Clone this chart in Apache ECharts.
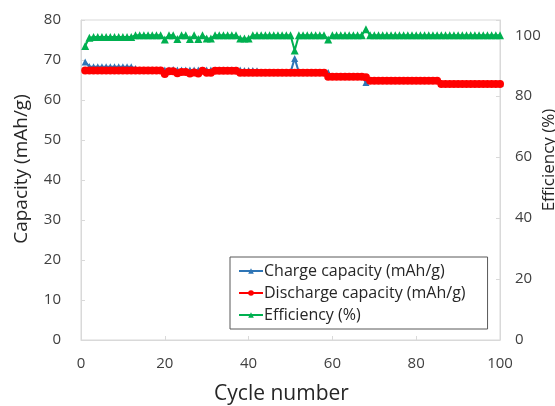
<!DOCTYPE html>
<html>
<head>
<meta charset="utf-8">
<script src="https://cdn.jsdelivr.net/npm/echarts@6/dist/echarts.min.js"></script>
<style>
  html, body { margin: 0; padding: 0; background: #fff; }
  #container { width: 555px; height: 406px; }
</style>
</head>
<body>
<div id="container"></div>
<script>
// cycles 1..100
var cycles = [];
for (var i = 1; i <= 100; i++) cycles.push(i);

// charge capacity (mAh/g)
var charge = [
    69.5, 68.4, 68.3, 68.3, 68.3, 68.3, 68.3, 68.3, 68.3, 68.3,
    68.3, 68.3, 67.9, 67.5, 67.5, 67.5, 67.5, 67.5, 67.5, 67.5,
    67.5, 67.6, 67.5, 67.5, 67.5, 67.5, 67.5, 67.5, 67.5, 67.5,
    67.5, 67.5, 67.5, 67.5, 67.5, 67.5, 67.5, 67.5, 67.4, 67.4,
    67.4, 67.3, 66.9, 66.9, 66.9, 66.9, 66.9, 66.9, 66.9, 66.9,
    70.4, 66.9, 66.9, 66.9, 66.9, 66.9, 66.9, 66.9, 66.9, 65.9,
    65.9, 65.9, 65.9, 65.9, 65.9, 65.9, 65.9, 64.4, 64.9, 64.9,
    64.9, 64.9, 64.9, 64.9, 64.9, 64.9, 64.9, 64.9, 64.9, 64.9,
    64.9, 64.9, 64.9, 64.9, 64.9, 64.1, 64.1, 64.1, 64.1, 64.1,
    64.1, 64.1, 64.1, 64.1, 64.1, 64.1, 64.1, 64.1, 64.1, 64.1
];

// discharge capacity (mAh/g)
var discharge = [
    67.4, 67.4, 67.4, 67.4, 67.4, 67.4, 67.4, 67.4, 67.4, 67.4,
    67.4, 67.4, 67.4, 67.4, 67.4, 67.4, 67.4, 67.4, 67.4, 66.5,
    67.2, 67.2, 66.7, 67.0, 67.0, 66.6, 66.9, 66.6, 67.3, 66.8,
    66.8, 67.3, 67.3, 67.3, 67.3, 67.3, 67.3, 66.8, 66.8, 66.8,
    66.8, 66.8, 66.8, 66.8, 66.8, 66.8, 66.8, 66.8, 66.8, 66.8,
    66.8, 66.8, 66.8, 66.8, 66.8, 66.8, 66.8, 66.8, 65.8, 65.8,
    65.8, 65.8, 65.8, 65.8, 65.8, 65.8, 65.8, 65.7, 64.8, 64.8,
    64.8, 64.8, 64.8, 64.8, 64.8, 64.8, 64.8, 64.8, 64.8, 64.8,
    64.8, 64.8, 64.8, 64.8, 64.8, 64.0, 64.0, 64.0, 64.0, 64.0,
    64.0, 64.0, 64.0, 64.0, 64.0, 64.0, 64.0, 64.0, 64.0, 64.0
];

// coulombic efficiency (%)
var efficiency = [
    96.5, 99.2, 99.4, 99.4, 99.4, 99.4, 99.4, 99.4, 99.4, 99.4,
    99.4, 99.4, 100, 100, 100, 100, 100, 100, 100, 98.6,
    100, 100, 98.8, 100, 100, 98.8, 100, 98.8, 100, 98.9,
    98.9, 100, 100, 100, 100, 100, 100, 98.9, 98.9, 98.9,
    100, 100, 100, 100, 100, 100, 100, 100, 100, 100,
    95.0, 100, 100, 100, 100, 100, 100, 100, 98.6, 100,
    100, 100, 100, 100, 100, 100, 100, 102, 100, 100,
    100, 100, 100, 100, 100, 100, 100, 100, 100, 100,
    100, 100, 100, 100, 100, 100, 100, 100, 100, 100,
    100, 100, 100, 100, 100, 100, 100, 100, 100, 100
];

function pairs(vals) {
    return cycles.map(function (c, i) { return [c, vals[i]]; });
}

var font = 'Open Sans';
var txt = '#404040';
var grey = '#d9d9d9';

var dom = document.getElementById('container');
var myChart = echarts.init(dom);
var option = {
    animation: false,
    textStyle: { fontFamily: font },
    grid: {
        left: 81, right: 55, top: 20, bottom: 66,
        outerBoundsMode: 'none', containLabel: false,
        show: true, borderColor: grey, borderWidth: 1
    },
    legend: {
        orient: 'vertical',
        left: 230, top: 257,
        width: 255,
        padding: [6, 22, 6, 8],
        itemGap: 6,
        itemWidth: 24, itemHeight: 7,
        borderColor: '#595959', borderWidth: 1,
        textStyle: { fontFamily: font, fontSize: 16, color: '#262626', padding: [0, 0, 0, -4] },
        data: ['Charge capacity (mAh/g)', 'Discharge capacity (mAh/g)', 'Efficiency (%)']
    },
    xAxis: {
        type: 'value', min: 0, max: 100, interval: 20,
        name: 'Cycle number', nameLocation: 'middle', nameGap: 44,
        nameMoveOverlap: false,
        nameTextStyle: { fontSize: 21, color: '#262626', fontFamily: font, padding: [0, 18, 0, 0] },
        axisLine: { lineStyle: { color: grey } },
        axisTick: { inside: true, length: 4, lineStyle: { color: grey } },
        axisLabel: { fontSize: 15, color: txt, margin: 16 },
        splitLine: { show: false }
    },
    yAxis: [{
        type: 'value', min: 0, max: 80, interval: 10,
        name: 'Capacity (mAh/g)', nameLocation: 'middle', nameGap: 50,
        nameMoveOverlap: false,
        nameTextStyle: { fontSize: 19, color: '#262626', fontFamily: font, padding: [0, 0, 0, 22] },
        axisLine: { show: true, lineStyle: { color: grey } },
        axisTick: { show: true, inside: true, length: 4, lineStyle: { color: grey } },
        axisLabel: { fontSize: 15, color: txt, margin: 20 },
        splitLine: { show: false }
    }, {
        type: 'value', min: 0, max: 105, interval: 20,
        position: 'right',
        name: 'Efficiency (%)', nameLocation: 'middle', nameGap: 41, nameRotate: 90,
        nameMoveOverlap: false,
        nameTextStyle: { fontSize: 17, color: '#262626', fontFamily: font, padding: [0, 0, 0, 40] },
        axisLine: { show: true, lineStyle: { color: grey } },
        axisTick: { show: true, inside: true, length: 4, lineStyle: { color: grey } },
        axisLabel: {
            fontSize: 15, color: txt, margin: 15,
            formatter: function (v) { return v % 20 === 0 ? v : ''; }
        },
        splitLine: { show: false }
    }],
    series: [{
        name: 'Charge capacity (mAh/g)', type: 'line', yAxisIndex: 0,
        data: pairs(charge),
        symbol: 'triangle', symbolSize: 7,
        itemStyle: { color: '#2e75b6' },
        lineStyle: { width: 2, color: '#2e75b6' },
        z: 2
    }, {
        name: 'Discharge capacity (mAh/g)', type: 'line', yAxisIndex: 0,
        data: pairs(discharge),
        symbol: 'circle', symbolSize: 8,
        itemStyle: { color: '#ff0000' },
        lineStyle: { width: 2.5, color: '#ff0000' },
        z: 3
    }, {
        name: 'Efficiency (%)', type: 'line', yAxisIndex: 1,
        data: pairs(efficiency),
        symbol: 'triangle', symbolSize: 8,
        itemStyle: { color: '#00b050' },
        lineStyle: { width: 2, color: '#00b050' },
        z: 4
    }]
};
if (option && typeof option === "object") {
    myChart.setOption(option, true);
}
</script>
</body>
</html>
